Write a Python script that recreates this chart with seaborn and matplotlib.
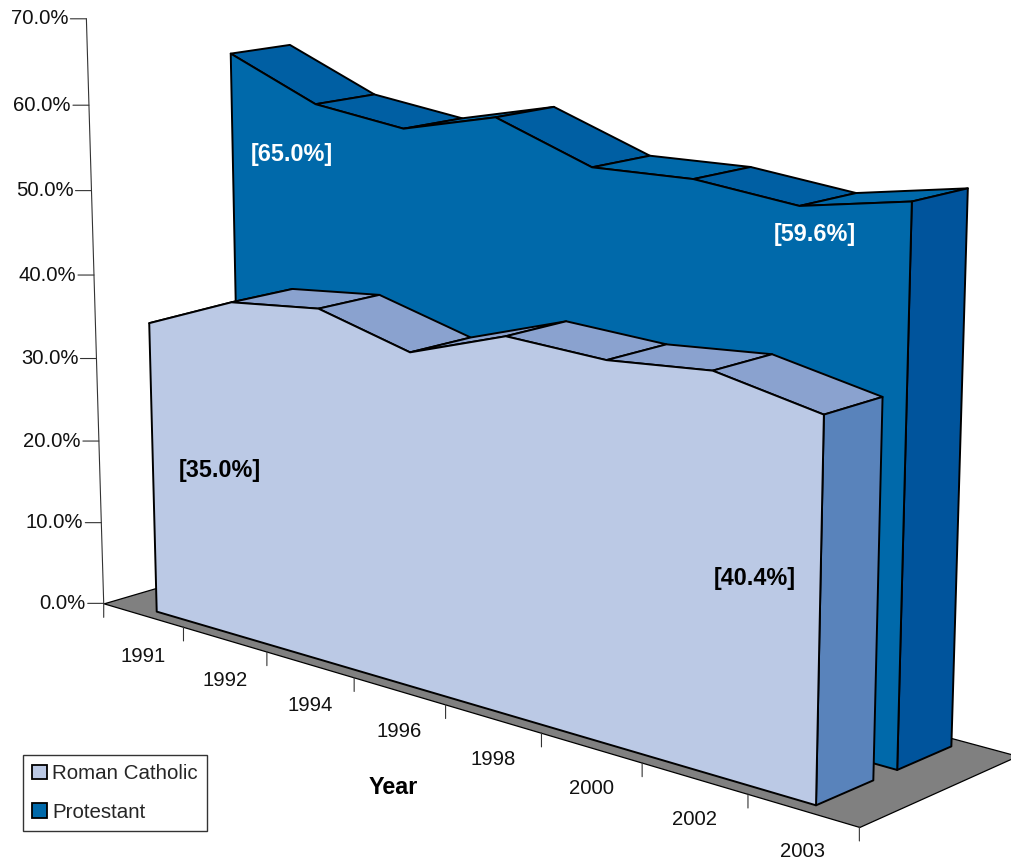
import matplotlib
matplotlib.use('Agg')
import matplotlib.pyplot as plt
import seaborn as sns
from matplotlib.patches import Patch
from mpl_toolkits.mplot3d import proj3d
from mpl_toolkits.mplot3d.art3d import Poly3DCollection

# Data
years = ['1991', '1992', '1994', '1996', '1998', '2000', '2002', '2003']
catholic = [35.0, 39.5, 40.8, 38.0, 41.9, 41.5, 42.6, 40.4]
protestant = [65.0, 60.5, 59.2, 62.0, 58.1, 58.5, 57.4, 59.6]
pct_ticks = [0, 10, 20, 30, 40, 50, 60, 70]

W, H = 1011, 859
sns.set_theme(style='white')
plt.rcParams['font.family'] = ['Liberation Sans', 'DejaVu Sans']

fig = plt.figure(figsize=(W / 100, H / 100), dpi=100)

# Axes square is bigger than the figure, the view is framed by hand
S = 1193.5
cx, cy = 530, 370
ax = fig.add_axes([(cx - 0.5135 * S) / W, (H - cy - 0.5135 * S) / H, S / W, S / H], projection='3d')
ax.set_axis_off()
ax.computed_zorder = False
ax.set_xlim(0, 8, view_margin=0)
ax.set_ylim(0, 2, view_margin=0)
ax.set_zlim(0, 70, view_margin=0)
ax.set_box_aspect((1017, 252, 638))
ax.view_init(elev=13.4, azim=-48.3)
ax.set_proj_type('persp', focal_length=0.54)

z = [0]


def face(verts, color, lw=1.4):
    z[0] += 1
    ax.add_collection3d(Poly3DCollection([verts], facecolors=color, edgecolors='black', linewidths=lw, zorder=z[0]), autolim=False)


def draw_band(values, y0, y1, front, top_dark, top_light, side):
    n = len(values)
    xs = [i + 0.5 for i in range(n)]
    for i in range(n - 1):
        color = top_light if values[i + 1] > values[i] else top_dark
        face([(xs[i], y0, values[i]), (xs[i], y1, values[i]), (xs[i + 1], y1, values[i + 1]), (xs[i + 1], y0, values[i + 1])], color)
    face([(xs[-1], y0, 0), (xs[-1], y1, 0), (xs[-1], y1, values[-1]), (xs[-1], y0, values[-1])], side)
    outline = [(x, y0, v) for x, v in zip(xs, values)] + [(xs[-1], y0, 0), (xs[0], y0, 0)]
    face(outline, front)


# Floor
face([(0, 0, 0), (8, 0, 0), (8, 2, 0), (0, 2, 0)], '#808080', lw=0.9)
draw_band(protestant, 1.15, 1.85, '#0069AA', '#005FA3', '#0069AA', '#00549C')
draw_band(catholic, 0.15, 0.85, '#BBC9E5', '#8AA2CF', '#8AA2CF', '#5983BB')

# Value axis
ax.plot([0, 0], [0, 0], [0, 70], color='#333333', lw=0.8, zorder=0)


def to2d(x, y, zv):
    px, py, _ = proj3d.proj_transform(x, y, zv, ax.get_proj())
    return px, py


def tick(xy, dx, dy):
    ax.annotate('', xy=xy, xytext=(dx * 0.72, dy * 0.72), textcoords='offset points',
                arrowprops=dict(arrowstyle='-', color='#333333', lw=0.8, shrinkA=0, shrinkB=0))


for t in pct_ticks:
    xy = to2d(0, 0, t)
    tick(xy, -16, 0)
    ax.annotate(f'{t:.1f}%', xy=xy, xytext=(-18 * 0.72, 0), textcoords='offset points',
                ha='right', va='center', fontsize=14.6, color='#111111')

for i in range(len(years) + 1):
    tick(to2d(i, 0, 0), 0, -14)
for i, year in enumerate(years):
    ax.annotate(year, xy=to2d(i + 0.5, 0, 0), xytext=(0, -41 * 0.72), textcoords='offset points',
                ha='center', va='center', fontsize=14.6, color='#111111')


def label(text, px, py, color='black', size=16.8):
    fig.text(px / W, 1 - py / H, text, ha='center', va='center', color=color, fontsize=size, fontweight='bold')


label('[35.0%]', 220, 470)
label('[40.4%]', 755, 579)
label('[65.0%]', 292, 155, color='white')
label('[59.6%]', 815, 235, color='white')
label('Year', 393, 788)

handles = [Patch(facecolor='#BBC9E5', edgecolor='black', lw=1.3), Patch(facecolor='#0069AA', edgecolor='black', lw=1.3)]
fig.legend(handles, ['Roman Catholic', 'Protestant'], loc='lower left', bbox_to_anchor=(23 / W, 1 - 831 / H),
           borderaxespad=0, fancybox=False, framealpha=1, edgecolor='#333333', fontsize=14.8,
           handlelength=0.72, handleheight=0.72, handletextpad=0.25, labelspacing=0.95, borderpad=0.45)

fig.savefig('out.png', dpi=100)
